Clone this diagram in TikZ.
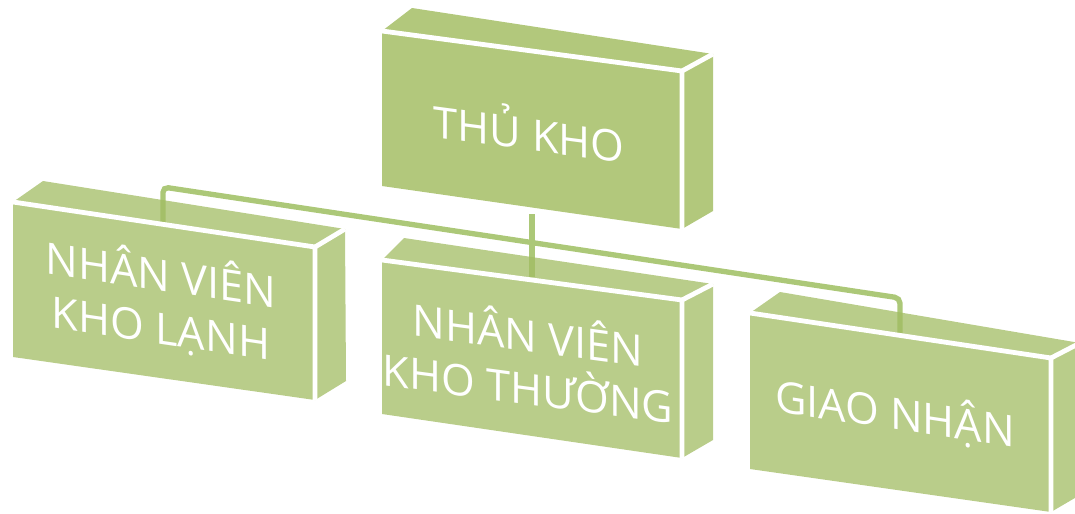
\documentclass[tikz,border=0pt]{standalone}
\usepackage{fontspec}
\setmainfont{Open Sans}
\usetikzlibrary{calc}

\definecolor{boxgreen}{RGB}{162,188,99}
\definecolor{topgreen}{RGB}{152,182,80}
\definecolor{linkgreen}{RGB}{172,200,120}

\begin{document}
\begin{tikzpicture}[x=0.75pt, y=-0.75pt,
    face/.style={fill=boxgreen, fill opacity=0.75},
    topface/.style={fill=topgreen, fill opacity=0.75},
    rim/.style={draw=white, line width=3.6pt, line join=miter},
    link/.style={draw=linkgreen, line width=4pt, rounded corners=4pt},
    lbl/.style={text=white, font=\fontsize{32.5}{40}\selectfont, align=center, inner sep=0pt}
]
\useasboundingbox (0,0) rectangle (1075,514);

% Connectors (behind the boxes)
\coordinate (busl) at (163,187);
\coordinate (busr) at (900,298);
\coordinate (topm) at (532,214);
\coordinate (dropl) at (163,222);
\coordinate (dropm) at (532,277);
\coordinate (dropr) at (900,333);
\draw[link] (dropl) -- (busl) -- (busr) -- (dropr);
\draw[link, rounded corners=0pt] (topm) -- (dropm);

% Thu kho
\fill[topface] (382,31) -- (412,8) -- (713,54) -- (682,71) -- cycle;
\fill[topface] (682,71) -- (713,54) -- (713,211) -- (682,229) -- cycle;
\fill[topface] (382,31) -- (682,71) -- (682,229) -- (382,186) -- cycle;
\draw[rim] (382,31) -- (682,71) -- (682,229);
\draw[rim] (682,71) -- (713,54);
\node[lbl, yslant=-0.133] (thukho) at (529,129) {THỦ KHO};

% Kho lanh
\fill[face] (13,202) -- (43,181) -- (345,229) -- (315,247) -- cycle;
\fill[face] (315,247) -- (345,229) -- (346,381) -- (315,400) -- cycle;
\fill[face] (13,202) -- (315,247) -- (315,400) -- (13,357) -- cycle;
\draw[rim] (13,202) -- (315,247) -- (315,400);
\draw[rim] (315,247) -- (345,229);
\node[lbl, yslant=-0.149] (lanh) at (161,301) {NHÂN VIÊN\\KHO LẠNH};

% Kho thuong
\fill[face] (382,260) -- (404,238) -- (713,284) -- (682,300) -- cycle;
\fill[face] (682,300) -- (713,284) -- (713,440) -- (682,458) -- cycle;
\fill[face] (382,260) -- (682,300) -- (682,458) -- (382,414) -- cycle;
\draw[rim] (382,260) -- (682,300) -- (682,458);
\draw[rim] (682,300) -- (713,284);
\node[lbl, yslant=-0.133] (thuong) at (528,358) {NHÂN VIÊN\\KHO THƯỜNG};

% Giao nhan
\fill[face] (750,313) -- (780,292) -- (1080,343) -- (1051,358) -- cycle;
\fill[face] (1051,358) -- (1080,343) -- (1080,495) -- (1051,512) -- cycle;
\fill[face] (750,313) -- (1051,358) -- (1051,512) -- (750,469) -- cycle;
\draw[rim] (750,313) -- (1051,358) -- (1051,512);
\draw[rim] (1051,358) -- (1080,343);
\node[lbl, yslant=-0.15] (giao) at (895,413) {GIAO NHẬN};

\end{tikzpicture}
\end{document}
